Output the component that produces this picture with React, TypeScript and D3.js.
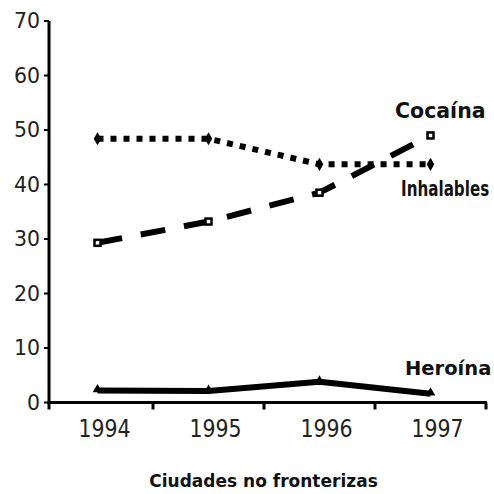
import React from "react";
import * as d3 from "d3";

const years = ["1994", "1995", "1996", "1997"];
const yTicks = [0, 10, 20, 30, 40, 50, 60, 70];
const dottedSeries = [48.4, 48.4, 43.7, 43.7];
const dashedSeries = [29.3, 33.2, 38.5, 49.0];
const solidSeries = [2.2, 2.1, 3.8, 1.6];
const seriesLabels = ["Cocaína", "Inhalables", "Heroína"];
const xTitle = "Ciudades no fronterizas";

const W = 494;
const H = 494;
const FONT = "'DejaVu Sans', Verdana, sans-serif";

export default function App() {
  const x = d3.scaleBand<string>().domain(years).range([42, 486]);
  const y = d3.scaleLinear().domain([0, 70]).range([402.5, 21]);
  const cx = (d: string) => (x(d) as number) + x.bandwidth() / 2;
  const line = d3
    .line<number>()
    .x((_, i) => cx(years[i]))
    .y((v) => y(v));
  const diamond = d3.symbol().type(d3.symbolDiamond).size(50)();
  const tri = d3.symbol().type(d3.symbolTriangle).size(40)();
  const axisLeft = 49;
  const axisRight = 487;
  const bounds = years.map((d) => (x(d) as number) + x.bandwidth()).concat([axisLeft]);

  return (
    <svg width={W} height={H} style={{ position: "absolute", left: 0, top: 0, background: "#fff" }}>
      <rect x={0} y={0} width={W} height={H} fill="#fff" />
      {/* y axis */}
      <line x1={axisLeft} x2={axisLeft} y1={y(70)} y2={y(0) + 1.5} stroke="#000" strokeWidth={3} />
      {yTicks.map((t) => (
        <g key={t}>
          <line x1={axisLeft - 5} x2={axisLeft} y1={y(t)} y2={y(t)} stroke="#000" strokeWidth={2} />
          <text
            x={40}
            y={y(t)}
            dy="0.36em"
            textAnchor="end"
            fontFamily={FONT}
            fontSize={20.5}
            fill="#222"
          >
            {t}
          </text>
        </g>
      ))}
      {/* x axis */}
      <line x1={axisLeft - 1.5} x2={axisRight} y1={y(0)} y2={y(0)} stroke="#000" strokeWidth={3} />
      {bounds.map((b, i) => (
        <line key={i} x1={Math.min(b, axisRight - 1)} x2={Math.min(b, axisRight - 1)} y1={y(0)} y2={y(0) + 7} stroke="#000" strokeWidth={3} />
      ))}
      {years.map((d) => (
        <text
          key={d}
          transform={`translate(${cx(d) + 7},437) scale(1,1.22)`}
          textAnchor="middle"
          fontFamily={FONT}
          fontSize={20.5}
          fill="#222"
        >
          {d}
        </text>
      ))}
      {/* dotted series */}
      <path d={line(dottedSeries) || ""} fill="none" stroke="#000" strokeWidth={6} strokeDasharray="6 7" />
      {dottedSeries.map((v, i) => (
        <path key={i} d={diamond || ""} transform={`translate(${cx(years[i])},${y(v)})`} fill="#000" />
      ))}
      {/* dashed series */}
      <path d={line(dashedSeries) || ""} fill="none" stroke="#000" strokeWidth={6} strokeDasharray="25 19" />
      {dashedSeries.map((v, i) => (
        <rect
          key={i}
          x={cx(years[i]) - 3}
          y={y(v) - 3}
          width={6}
          height={6}
          fill="#fff"
          stroke="#000"
          strokeWidth={2.5}
        />
      ))}
      {/* solid series */}
      <path d={line(solidSeries) || ""} fill="none" stroke="#000" strokeWidth={6} strokeLinejoin="round" />
      {solidSeries.map((v, i) => (
        <path key={i} d={tri || ""} transform={`translate(${cx(years[i])},${y(v) - 1})`} fill="#000" />
      ))}
      {/* series labels */}
      <text x={395} y={118} fontFamily={FONT} fontWeight="bold" fontSize={20.5} fill="#111">
        {seriesLabels[0]}
      </text>
      <text transform="translate(401,196) scale(0.74,1)" fontFamily={FONT} fontWeight="bold" fontSize={20.5} fill="#111">
        {seriesLabels[1]}
      </text>
      <text x={405} y={375} fontFamily={FONT} fontWeight="bold" fontSize={19.5} fill="#111">
        {seriesLabels[2]}
      </text>
      {/* x title */}
      <text transform="translate(263.5,487) scale(0.92,1)" textAnchor="middle" fontFamily={FONT} fontWeight="bold" fontSize={18.5} fill="#111">
        {xTitle}
      </text>
    </svg>
  );
}
